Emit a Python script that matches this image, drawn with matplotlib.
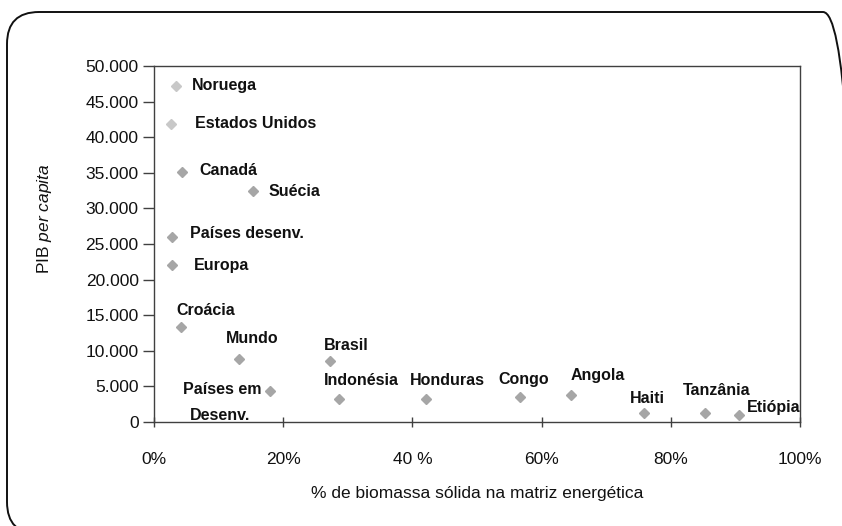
import matplotlib
matplotlib.use("Agg")
import matplotlib.pyplot as plt
from matplotlib.patches import FancyBboxPatch
from matplotlib.ticker import FuncFormatter
from matplotlib.transforms import IdentityTransform

plt.rcParams["font.family"] = ["Liberation Sans", "DejaVu Sans"]
plt.rcParams["mathtext.fontset"] = "custom"
plt.rcParams["mathtext.rm"] = "Liberation Sans"
plt.rcParams["mathtext.it"] = "Liberation Sans:italic"

# ---- dados ----
paises = ["Noruega", "Estados Unidos", "Canadá", "Suécia", "Países desenv.",
          "Europa", "Croácia", "Mundo", "Brasil", "Países em", "Indonésia",
          "Honduras", "Congo", "Angola", "Haiti", "Tanzânia", "Etiópia"]
biomassa = [3.4, 2.6, 4.3, 15.3, 2.8, 2.8, 4.2, 13.1, 27.2, 17.9, 28.6,
            42.1, 56.6, 64.6, 75.9, 85.3, 90.6]
pib = [47200, 41900, 35100, 32400, 26000, 22000, 13400, 8850, 8560, 4330,
       3290, 3290, 3530, 3760, 1270, 1270, 1030]
destaque = ["Noruega", "Estados Unidos"]   # pontos mais claros

xticks = [0, 20, 40, 60, 80, 100]
xtick_labels = ["0%", "20%", "40 %", "60%", "80%", "100%"]
yticks = list(range(0, 50001, 5000))

# deslocamento dos rótulos (pixels, origem no marcador, y para baixo)
offsets = [(16, 0), (24, 0), (18, -2), (16, 0), (18, -3), (22, 0),
           (-5, -16), (-13, -20), (-6, -16), (-8, -2), (-15, -18),
           (-16, -18), (-21, -17), (-1, -20), (-14, -14), (-22, -22), (8, -7)]

W, H = 842, 526
fig = plt.figure(figsize=(W / 100, H / 100), dpi=100)
ax = fig.add_axes([154 / W, 1 - 422 / H, (800 - 154) / W, (422 - 66) / H])

for nome, x, y in zip(paises, biomassa, pib):
    cor = "#c8c8c8" if nome in destaque else "#a6a6a6"
    ax.plot(x, y, "D", ms=5.3, color=cor, mec=cor, zorder=3)

for nome, x, y, (dx, dy) in zip(paises, biomassa, pib, offsets):
    ha = "right" if nome == "Países em" else "left"
    ax.annotate(nome, (x, y), xytext=(dx, -dy), textcoords="offset pixels",
                ha=ha, va="center", fontsize=11.5, fontweight="bold", color="#111111")
# segunda linha de "Países em Desenv."
i = paises.index("Países em")
ax.annotate("Desenv.", (biomassa[i], pib[i]), xytext=(-80, -24),
            textcoords="offset pixels", ha="left", va="center",
            fontsize=11.5, fontweight="bold", color="#111111")

ax.set_xlim(0, 100)
ax.set_ylim(0, 50000)
ax.set_xticks(xticks)
ax.set_xticklabels(xtick_labels)
ax.set_yticks(yticks)
ax.yaxis.set_major_formatter(FuncFormatter(lambda v, p: f"{int(v):,}".replace(",", ".")))

for s in ax.spines.values():
    s.set_color("#404040")
    s.set_linewidth(1.0)
ax.tick_params(axis="x", direction="inout", length=7, width=1.0, color="#404040",
               pad=18, labelsize=12.5, labelcolor="#111111")
ax.tick_params(axis="y", direction="out", length=8, width=1.0, color="#404040",
               pad=3, labelsize=12.5, labelcolor="#111111")

ax.set_xlabel("% de biomassa sólida na matriz energética", fontsize=12.5,
              labelpad=14, color="#111111")
ax.set_ylabel("PIB $\\mathit{per\\ capita}$", fontsize=12.5, color="#111111")
ax.yaxis.set_label_coords(-0.155, 0.57)

# moldura arredondada em volta do gráfico
moldura = FancyBboxPatch((7, -8), 848, 522,
                         boxstyle="round,pad=0,rounding_size=32",
                         transform=IdentityTransform(), fill=False,
                         edgecolor="#111111", linewidth=1.4)
fig.add_artist(moldura)

fig.savefig("out.png", dpi=100)
